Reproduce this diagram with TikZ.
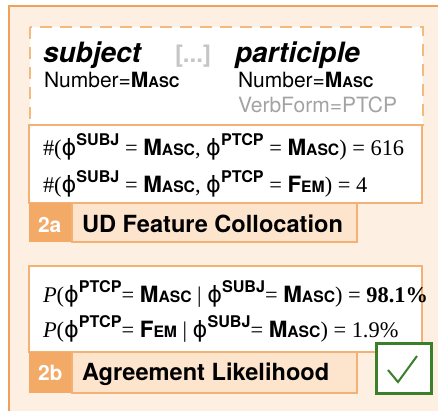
\documentclass[tikz,border=0pt]{standalone}
\usepackage{fontspec}
\setmainfont{Liberation Serif}
\setsansfont{TeX Gyre Heros}
\newfontfamily\phifont{DejaVu Sans}
\usepackage{graphicx}
\definecolor{outerline}{HTML}{EFA15B}
\definecolor{outerfill}{HTML}{FDF0E3}
\definecolor{dashline}{HTML}{F2BA80}
\definecolor{boxline}{HTML}{F3B274}
\definecolor{tagfill}{HTML}{F2AA66}
\definecolor{titlefill}{HTML}{FCE4CD}
\definecolor{checkgreen}{HTML}{3B7F2B}
\definecolor{grayA}{HTML}{A3A3A3}
\definecolor{grayB}{HTML}{C6C6C6}
\newcommand\Masc{\textsf{\bfseries M\scalebox{0.7}{ASC}}}
\newcommand\Fem{\textsf{\bfseries F\scalebox{0.7}{EM}}}
\newcommand\sups[1]{\raisebox{0.42em}{\scalebox{0.72}{\sffamily\bfseries #1}}}
\newcommand\fy{{\phifont ϕ}}
\tikzset{
  txt/.style={anchor=base west, inner sep=0pt, outer sep=0pt},
  head/.style={txt, font=\sffamily\bfseries\itshape\fontsize{28}{30}\selectfont},
  feat/.style={txt, font=\sffamily\fontsize{21}{24}\selectfont},
  formula/.style={txt, font=\fontsize{22.4}{26}\selectfont},
  title/.style={txt, font=\sffamily\bfseries\fontsize{23.6}{26}\selectfont},
  tag/.style={txt, text=white, font=\sffamily\bfseries\fontsize{21}{24}\selectfont},
  whitebox/.style={draw=boxline, line width=2pt, fill=white},
  tagbox/.style={fill=tagfill},
  titlebox/.style={draw=boxline, line width=1.5pt, fill=titlefill},
}
\begin{document}
\begin{tikzpicture}[x=1pt,y=-1pt]
\useasboundingbox (0,0) rectangle (438,410);
\clip (0,0) rectangle (438,410);
% outer panel
\draw[draw=outerline, fill=outerfill, line width=2.5pt] (9,6) rectangle (460,430);
% dashed sentence box
\draw[draw=dashline, fill=white, line width=2pt, dash pattern=on 12pt off 8pt] (30,27) rectangle (423,125);
\node[head] (subj) at (43,62) {subject};
\node[txt, text=grayB, font=\sffamily\bfseries\fontsize{24}{26}\selectfont] (dots) at (175,62) {[...]};
\node[head] (part) at (235,62) {participle};
\node[feat] (subjnum) at (44,87) {Number=\Masc};
\node[feat] (partnum) at (238,87) {Number=\Masc};
\node[feat, text=grayA] (verb) at (238,112) {VerbForm=PTCP};
% 2a
\draw[whitebox] (29,125) rectangle (422,203);
\node[formula] (a1) at (43,155) {\#(\fy\sups{SUBJ} = \Masc, \fy\sups{PTCP} = \Masc) = 616};
\node[formula] (a2) at (43,192) {\#(\fy\sups{SUBJ} = \Masc, \fy\sups{PTCP} = \Fem) = 4};
\fill[tagbox] (29,203) rectangle (72,242);
\draw[titlebox] (72,203) rectangle (357,242);
\node[tag] (tag2a) at (38,232) {2a};
\node[title] (t2a) at (82,232) {UD Feature Collocation};
% 2b
\draw[whitebox] (29,266) rectangle (422,352);
\node[formula] (b1) at (43,302) {\textit{P}(\fy\sups{PTCP}= \Masc\ | \fy\sups{SUBJ}= \Masc) = \textbf{98.1\%}};
\node[formula] (b2) at (43,337) {\textit{P}(\fy\sups{PTCP}= \Fem\ | \fy\sups{SUBJ}= \Masc) = 1.9\%};
\fill[tagbox] (29,352) rectangle (72,393);
\draw[titlebox] (72,352) rectangle (357,393);
\node[tag] (tag2b) at (38,380) {2b};
\node[title] (t2b) at (82,380) {Agreement Likelihood};
% check
\draw[draw=checkgreen, fill=white, line width=3pt] (376,343) rectangle (431,393);
\draw[checkgreen, line width=2pt] (388,370) -- (398,382) -- (417,356);
\end{tikzpicture}
\end{document}
